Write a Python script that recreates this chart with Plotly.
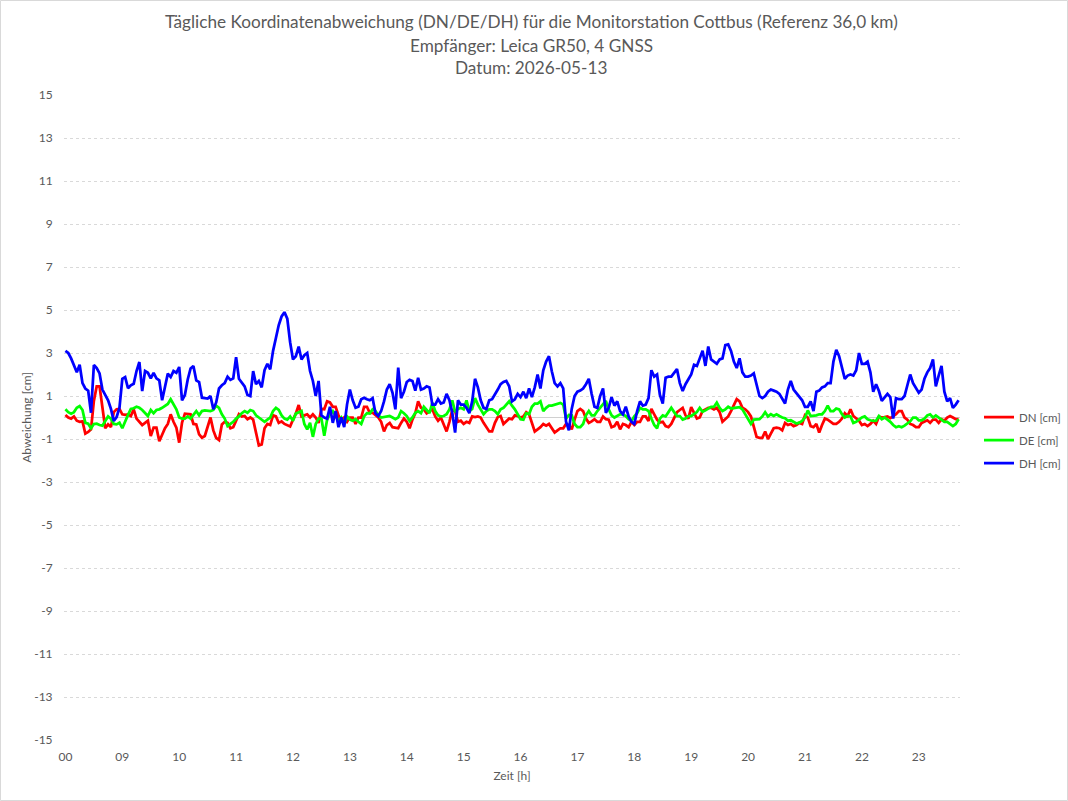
import pandas as pd
import plotly.graph_objects as go

# ---------------- data (3-minute samples, 08:00 .. 23:42) ----------------
dn = [0.12,0.0,-0.05,0.05,-0.15,-0.2,-0.18,-0.75,-0.67,-0.55,
      0.77,1.45,1.45,0.4,-0.5,-0.32,-0.44,0.25,0.38,0.4,
      0.15,0.12,0.14,0.07,0.38,-0.05,-0.22,-0.35,-0.25,-0.15,
      -0.86,-0.47,-0.47,-1.1,-0.8,-0.5,-0.3,0.15,-0.2,-0.47,
      -1.17,-0.24,0.18,0.18,0.15,-0.3,-0.32,-0.78,-0.94,-0.86,
      -0.47,0.0,-0.6,
      -0.95,-1.05,-0.32,-0.2,-0.25,-0.5,-0.45,-0.15,0.15,0.05,
      0.07,-0.08,0.0,-0.1,-0.65,-1.3,-1.25,-0.5,-0.3,-0.35,
      0.1,0.05,-0.25,-0.18,-0.3,-0.35,-0.42,-0.1,0.18,0.58,
      0.05,0.1,0.15,0.0,0.15,0.0,-0.25,0.4,0.38,0.75,
      0.7,0.5,0.5,0.1,-0.15,0.0,-0.2,0.0,0.0,-0.3,
      0.0,0.0,
      0.5,0.5,0.22,0.22,0.12,0.0,-0.2,-0.65,-0.35,-0.25,
      -0.45,-0.47,-0.5,-0.25,-0.05,-0.2,-0.5,-0.1,0.2,0.75,
      0.45,0.38,0.2,0.3,0.38,0.05,-0.15,0.0,-0.3,-0.65,
      -0.2,0.35,0.3,-0.2,-0.15,-0.3,-0.2,-0.25,0.05,0.02,
      0.05,0.0,-0.25,-0.45,-0.65,-0.65,-0.25,0.02,0.07,-0.3,
      -0.15,-0.05,
      -0.08,0.1,0.07,0.0,0.05,0.25,0.15,-0.3,-0.65,-0.55,
      -0.45,-0.3,-0.38,-0.3,-0.5,-0.7,-0.6,-0.5,-0.5,-0.3,
      -0.35,-0.55,-0.1,0.3,0.4,0.3,-0.05,-0.25,-0.18,-0.08,
      -0.2,-0.2,0.05,-0.08,-0.1,-0.45,-0.4,-0.2,-0.55,-0.3,
      -0.35,-0.45,-0.2,-0.35,-0.2,-0.2,0.05,0.05,-0.16,0.4,
      0.15,-0.1,-0.23,
      -0.2,-0.4,-0.45,-0.3,0.0,0.25,0.35,0.45,0.1,-0.05,
      0.48,0.2,-0.05,0.0,0.3,0.38,0.45,0.45,0.38,0.45,
      0.25,-0.2,-0.05,0.05,0.3,0.6,0.85,0.75,0.45,0.38,
      0.25,0.05,-0.45,-0.9,-0.95,-0.95,-0.65,-1.0,-0.75,-0.5,
      -0.47,-0.5,-0.6,-0.25,-0.35,-0.3,-0.4,-0.35,-0.25,-0.3,
      0.1,0.0,
      -0.4,-0.45,-0.3,-0.7,-0.35,-0.05,-0.1,-0.2,-0.3,-0.3,
      -0.2,-0.05,0.2,0.07,0.38,0.07,-0.05,-0.15,-0.35,-0.3,
      -0.4,-0.3,-0.15,-0.3,0.05,0.0,0.02,0.05,-0.03,0.07,
      0.15,0.3,0.3,0.0,-0.1,-0.3,-0.35,-0.45,-0.45,-0.25,
      -0.18,-0.13,-0.25,-0.1,-0.1,-0.25,-0.08,-0.15,0.0,0.07,
      0.0,-0.08,-0.08]

de = [0.38,0.25,0.18,0.25,0.45,0.53,0.35,-0.25,-0.29,-0.5,
      -0.3,-0.29,-0.35,-0.38,-0.16,0.05,-0.06,-0.3,-0.32,-0.24,
      -0.5,-0.15,0.12,0.4,0.43,0.5,0.45,0.35,0.2,0.07,
      0.35,0.2,0.35,0.38,0.45,0.55,0.63,0.85,0.6,0.38,
      0.0,-0.05,-0.05,0.05,-0.05,0.1,0.3,0.1,0.3,0.33,
      0.33,0.3,0.35,
      0.55,0.45,0.15,-0.05,-0.4,-0.3,-0.2,-0.05,0.05,0.2,
      0.3,0.22,0.35,0.3,0.1,0.0,-0.08,-0.2,-0.1,0.0,
      0.3,0.45,0.35,0.1,-0.05,-0.1,0.05,-0.15,0.18,0.25,
      0.3,-0.3,-0.55,-0.25,-0.9,-0.3,-0.05,-0.05,-0.85,-0.1,
      0.15,0.3,0.07,-0.16,0.0,-0.3,0.05,-0.1,-0.15,-0.08,
      -0.2,-0.3,
      0.05,0.2,0.18,0.38,0.3,0.1,0.0,0.02,0.07,0.07,
      0.0,-0.08,0.0,0.3,0.2,0.07,-0.16,0.0,0.22,0.3,
      0.2,0.5,0.35,0.2,0.69,0.3,0.1,0.05,0.07,0.15,
      0.38,0.8,0.25,0.4,0.45,0.38,0.8,0.3,0.4,0.9,
      0.6,0.38,0.15,0.3,0.38,0.38,0.3,0.15,0.38,0.45,
      0.6,0.75,
      0.55,0.38,0.15,-0.08,-0.1,0.2,0.15,0.5,0.65,0.65,
      0.75,0.3,0.45,0.55,0.55,0.6,0.63,0.68,0.6,-0.05,
      0.12,0.1,-0.3,-0.45,-0.45,-0.3,0.1,0.3,0.1,0.1,
      0.3,0.45,0.6,0.77,0.38,0.1,0.0,0.07,0.15,0.15,
      0.07,-0.08,-0.16,0.05,0.2,0.45,0.38,0.38,0.3,-0.05,
      -0.35,-0.5,-0.05,
      0.1,0.05,0.25,0.45,0.25,0.07,0.07,-0.1,-0.05,0.07,
      0.07,0.15,0.25,0.45,0.27,0.33,0.4,0.5,0.5,0.69,
      0.45,0.3,0.38,0.5,0.42,0.45,0.45,0.48,0.38,0.15,
      -0.05,-0.3,-0.1,-0.08,-0.08,0.05,0.25,0.05,0.15,0.07,
      0.15,0.07,0.0,-0.03,-0.15,-0.13,-0.2,-0.28,-0.24,-0.16,
      0.0,0.33,
      0.07,0.07,0.1,0.15,0.15,0.3,0.55,0.3,0.3,0.42,
      0.38,0.15,0.0,0.07,0.05,-0.25,-0.2,-0.1,0.0,0.05,
      -0.08,-0.13,-0.16,-0.15,0.07,-0.08,0.0,-0.1,-0.2,-0.35,
      -0.45,-0.4,-0.45,-0.38,-0.3,-0.18,0.0,0.0,-0.13,-0.13,
      -0.05,0.1,0.15,0.0,0.1,0.0,-0.08,-0.2,-0.2,-0.3,
      -0.4,-0.3,-0.08]

dh = [3.1,3.0,2.75,2.4,2.1,2.45,1.6,1.35,1.25,0.22,
      2.44,2.3,2.05,1.3,1.05,0.8,0.4,-0.16,0.02,0.46,
      1.8,1.88,1.36,1.5,1.57,2.16,2.58,1.23,2.16,2.08,
      1.82,2.08,1.82,1.73,0.8,1.47,2.04,1.88,2.16,2.08,
      2.35,0.8,1.05,1.77,2.28,2.4,1.73,1.65,0.92,0.9,
      0.88,1.0,0.38,
      0.7,1.35,1.5,1.6,1.9,1.75,1.82,2.8,1.8,1.65,
      1.45,1.05,1.0,2.16,1.55,1.7,1.4,2.2,2.5,2.24,
      3.1,3.7,4.3,4.7,4.9,4.6,3.5,2.7,2.85,3.3,
      2.7,2.9,3.0,2.16,1.7,1.0,1.7,0.1,0.0,-0.05,
      0.5,-0.25,0.3,-0.45,0.0,-0.45,0.6,1.3,0.8,0.45,
      0.5,0.85,
      0.92,0.85,0.8,0.9,0.2,0.07,0.3,0.75,1.3,1.55,
      1.15,0.38,2.32,0.9,1.2,1.65,1.75,1.7,1.25,1.85,
      1.3,1.35,1.45,1.4,0.6,0.6,0.85,0.65,0.7,1.1,
      0.8,0.22,-0.7,0.8,0.6,0.6,0.45,0.2,0.75,1.8,
      1.4,0.8,0.45,0.4,0.8,0.85,1.05,1.3,1.55,1.65,
      1.7,1.45,
      0.75,0.85,1.1,0.95,1.2,0.9,1.35,0.95,1.4,2.0,
      1.35,2.2,2.6,2.85,2.15,1.6,1.45,1.6,1.35,-0.2,
      -0.6,0.4,1.0,1.2,1.25,1.35,1.55,1.8,1.1,0.5,
      0.45,1.0,1.35,0.22,0.45,0.95,0.55,0.75,0.3,0.15,
      0.5,0.05,-0.2,-0.3,0.3,0.75,0.55,0.6,0.9,2.2,
      1.9,2.0,1.05,
      0.65,1.85,1.9,1.9,2.1,2.25,1.6,1.23,1.55,1.8,
      2.0,2.45,2.4,2.75,3.1,2.4,3.3,2.7,2.6,2.5,
      2.7,2.75,3.37,3.4,3.1,2.6,2.3,2.75,2.1,1.9,
      1.9,1.95,2.05,1.5,1.0,0.9,1.0,1.2,1.3,1.25,
      1.2,1.1,0.85,0.65,1.3,1.7,1.3,1.15,0.95,0.8,
      0.5,0.5,
      0.75,0.3,1.2,1.25,1.4,1.45,1.6,1.6,2.6,3.15,
      2.85,2.35,1.8,1.95,2.0,1.95,2.2,3.0,2.5,2.5,
      2.6,2.1,1.2,1.55,1.23,0.77,0.95,1.1,0.95,-0.05,
      0.9,0.85,0.85,1.0,1.5,2.0,1.6,1.4,1.15,1.3,
      1.8,2.1,2.3,2.7,1.45,1.95,2.4,1.2,0.75,0.9,
      0.45,0.6,0.8]

zeit = list(pd.date_range("2026-05-13 08:00", periods=len(dn), freq="3min").strftime("%H:%M"))

x_tick_vals = ["08:00", "09:00", "10:00", "11:00", "12:00", "13:00", "14:00", "15:00",
               "16:00", "17:00", "18:00", "19:00", "20:00", "21:00", "22:00", "23:00"]
x_tick_text = ["00", "09", "10", "11", "12", "13", "14", "15",
               "16", "17", "18", "19", "20", "21", "22", "23"]
y_tick_vals = [15, 13, 11, 9, 7, 5, 3, 1, -1, -3, -5, -7, -9, -11, -13, -15]
y_tick_text = ["15", "13", "11", "9", "7", "5", "3", "1", "-1", "-3", "-5", "-7", "-9", "-11", "-13", "-15"]

series_names = ["DN [cm]", "DE [cm]", "DH [cm]"]
series_colors = ["#FF0000", "#00FF00", "#0000FF"]

FONT = "Lato"
GREY = "#595959"

fig = go.Figure()
for name, vals, col in zip(series_names, [dn, de, dh], series_colors):
    fig.add_trace(go.Scatter(x=zeit, y=vals, mode="lines", name=name,
                             legendgroup=name,
                             line=dict(color=col, width=2.75)))

L, R, T, B = 64, 108, 95, 61
W, H = 1068, 801
pw, ph = W - L - R, H - T - B

def px_x(p):
    return (p - L) / pw

def px_y(p):
    return (H - B - p) / ph

title_lines = ["Tägliche Koordinatenabweichung (DN/DE/DH) für die Monitorstation Cottbus (Referenz 36,0 km)",
               "Empfänger: Leica GR50, 4 GNSS",
               "Datum: 2026-05-13"]
title_y = [22, 45, 67.5]
annotations = []
for txt, yy in zip(title_lines, title_y):
    annotations.append(dict(text=txt, x=px_x(531), y=px_y(yy), xref="paper", yref="paper",
                            xanchor="center", yanchor="middle", showarrow=False,
                            font=dict(family=FONT, size=17.2, color=GREY)))

fig.update_layout(
    width=W, height=H,
    margin=dict(l=L, r=R, t=T, b=B, pad=0, autoexpand=False),
    paper_bgcolor="white", plot_bgcolor="white",
    font=dict(family=FONT, size=12, color=GREY),
    annotations=annotations,
    showlegend=True,
    legend=dict(x=px_x(979), y=px_y(440), xanchor="left", yanchor="middle",
                font=dict(family=FONT, size=11.5, color=GREY),
                tracegroupgap=4, itemwidth=30, bgcolor="rgba(0,0,0,0)"),
    shapes=[dict(type="rect", xref="paper", yref="paper",
                 x0=px_x(0.5), x1=px_x(W - 0.5), y0=px_y(H - 0.5), y1=px_y(0.5),
                 line=dict(color="#D9D9D9", width=1), layer="below")],
)

fig.update_xaxes(
    type="category", range=[-0.5, len(dn) - 0.5],
    tickmode="array", tickvals=x_tick_vals, ticktext=x_tick_text,
    ticks="outside", ticklen=6, tickcolor="rgba(0,0,0,0)",
    tickfont=dict(family=FONT, size=12, color=GREY),
    showgrid=False, showline=False, zeroline=False,
    title=dict(text="Zeit [h]", font=dict(family=FONT, size=12, color=GREY), standoff=8),
)
fig.update_yaxes(
    range=[-15, 15], tickmode="array", tickvals=y_tick_vals, ticktext=y_tick_text,
    ticks="outside", ticklen=8, tickcolor="rgba(0,0,0,0)",
    tickfont=dict(family=FONT, size=12, color=GREY),
    showgrid=True, gridcolor="#D9D9D9", gridwidth=1, griddash="dot",
    zeroline=True, zerolinecolor="#D0D0D0", zerolinewidth=1,
    showline=False,
    title=dict(text="Abweichung [cm]", font=dict(family=FONT, size=12, color=GREY), standoff=0),
)

fig.write_html("out.html")
